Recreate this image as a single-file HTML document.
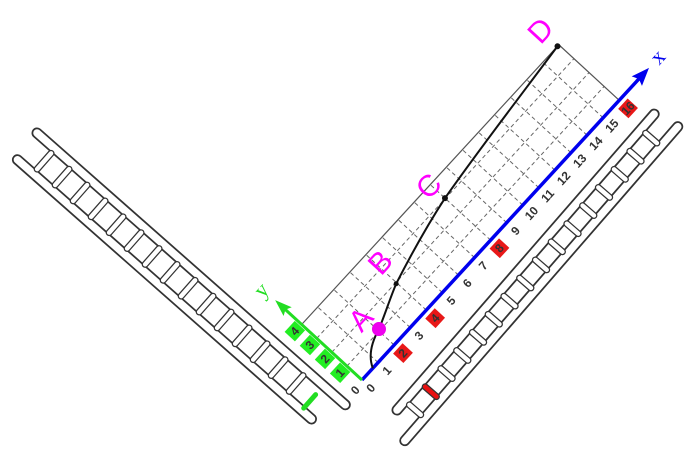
<!DOCTYPE html>
<html><head><meta charset="utf-8"><style>
html,body{margin:0;padding:0;background:#fff;}
svg{display:block;}
.n{font-family:"Liberation Sans",sans-serif;font-weight:bold;font-size:12px;fill:#333;text-anchor:middle;}
.m{font-family:"Liberation Sans",sans-serif;font-size:30px;fill:#ff00ff;text-anchor:middle;}
</style></head><body>
<svg width="693" height="451" viewBox="0 0 693 451" xmlns="http://www.w3.org/2000/svg">
<!-- Left ladder -->
<g transform="translate(37,133) rotate(41.4)">
 <g stroke-linecap="round">
  <line x1="0" y1="0" x2="411" y2="0" stroke="#333" stroke-width="11"/>
  <line x1="0" y1="0" x2="411" y2="0" stroke="#fff" stroke-width="7.5"/>
  <line x1="3" y1="33" x2="395" y2="33" stroke="#333" stroke-width="11"/>
  <line x1="3" y1="33" x2="395" y2="33" stroke="#fff" stroke-width="7.5"/>
 </g>
 <g stroke="#333" stroke-width="7" stroke-linecap="round">
  <path d="M24 6V27M48 6V27M72 6V27M96 6V27M120 6V27M144 6V27M168 6V27M192 6V27M216 6V27M240 6V27M264 6V27M288 6V27M312 6V27M336 6V27M360 6V27"/>
 </g>
 <g stroke="#fff" stroke-width="4.5" stroke-linecap="round">
  <path d="M24 6V27M48 6V27M72 6V27M96 6V27M120 6V27M144 6V27M168 6V27M192 6V27M216 6V27M240 6V27M264 6V27M288 6V27M312 6V27M336 6V27M360 6V27"/>
 </g>
 <line x1="382" y1="12" x2="382" y2="30" stroke="#22dd22" stroke-width="5" stroke-linecap="round"/>
</g>
<!-- Right ladder -->
<g transform="translate(397,410) rotate(-49)">
 <g stroke-linecap="round">
  <line x1="0" y1="0" x2="392" y2="0" stroke="#333" stroke-width="11"/>
  <line x1="0" y1="0" x2="392" y2="0" stroke="#fff" stroke-width="7.5"/>
  <line x1="-18" y1="26" x2="398" y2="26" stroke="#333" stroke-width="11"/>
  <line x1="-18" y1="26" x2="398" y2="26" stroke="#fff" stroke-width="7.5"/>
 </g>
 <g stroke="#333" stroke-width="7" stroke-linecap="round">
  <path d="M12 6V21M60 6V21M84 6V21M108 6V21M132 6V21M156 6V21M180 6V21M204 6V21M228 6V21M252 6V21M276 6V21M300 6V21M324 6V21M348 6V21M372 6V21"/>
 </g>
 <g stroke="#fff" stroke-width="4.5" stroke-linecap="round">
  <path d="M12 6V21M60 6V21M84 6V21M108 6V21M132 6V21M156 6V21M180 6V21M204 6V21M228 6V21M252 6V21M276 6V21M300 6V21M324 6V21M348 6V21M372 6V21"/>
 </g>
 <line x1="36" y1="6" x2="36" y2="21" stroke="#333" stroke-width="7" stroke-linecap="round"/>
 <line x1="36" y1="6" x2="36" y2="21" stroke="#e81010" stroke-width="4.5" stroke-linecap="round"/>
</g>
<!-- Main rotated frame -->
<g transform="translate(362,380) rotate(-47.4)">
 <g stroke="#666" stroke-width="1" stroke-dasharray="4,3" fill="none">
  <path d="M23.75 0V-82M47.5 0V-82M71.25 0V-82M95 0V-82M118.75 0V-82M142.5 0V-82M166.25 0V-82M190 0V-82M213.75 0V-82M237.5 0V-82M261.25 0V-82M285 0V-82M308.75 0V-82M332.5 0V-82M356.25 0V-82"/>
  <path d="M0 -20.5H380M0 -41H380M0 -61.5H380"/>
 </g>
 <path d="M0 -82H380V0" stroke="#555" stroke-width="1.2" fill="none"/>
 <line x1="0" y1="0" x2="412" y2="0" stroke="#0000ee" stroke-width="3.5"/>
 <polygon points="424,0 406,-7 409,0 406,7" fill="#0000ee"/>
 <line x1="0" y1="0" x2="0" y2="-106" stroke="#22dd22" stroke-width="3"/>
 <polygon points="0,-118 -6,-101 0,-104 6,-101" fill="#22dd22"/>
 <text x="438" y="6" font-family="Liberation Serif,serif" font-size="22" fill="#0000ee" text-anchor="middle">x</text>
 <text x="-2" y="-128" font-family="Liberation Serif,serif" font-size="22" fill="#22dd22" text-anchor="middle">y</text>
 <path d="M16 0 C20 -8 28 -17 49 -22 C65 -28 80 -35 94 -40 C130 -50 160 -57 190 -62 C250 -70 320 -76 378 -82" stroke="#111" stroke-width="2" fill="none"/>
 <circle cx="94" cy="-40" r="2.5" fill="#111"/>
 <circle cx="190" cy="-62" r="3" fill="#111"/>
 <circle cx="378" cy="-82" r="3" fill="#111"/>
 <circle cx="49" cy="-22" r="7" fill="#ee00ee"/>
 <text class="m" x="44" y="-32">A</text>
 <text class="m" x="99" y="-56">B</text>
 <text class="m" x="188" y="-72">C</text>
 <text class="m" x="378" y="-95">D</text>
 <g fill="#e81818">
  <rect x="40.5" y="5" width="14" height="14"/>
  <rect x="88" y="5" width="14" height="14"/>
  <rect x="183" y="5" width="14" height="14"/>
  <rect x="373" y="5" width="14" height="14"/>
 </g>
 <text class="n" x="0" y="16">0</text>
 <text class="n" x="23.75" y="16">1</text>
 <text class="n" x="47.5" y="16">2</text>
 <text class="n" x="71.25" y="16">3</text>
 <text class="n" x="95" y="16">4</text>
 <text class="n" x="118.75" y="16">5</text>
 <text class="n" x="142.5" y="16">6</text>
 <text class="n" x="166.25" y="16">7</text>
 <text class="n" x="190" y="16">8</text>
 <text class="n" x="213.75" y="16">9</text>
 <text class="n" x="237.5" y="16">10</text>
 <text class="n" x="261.25" y="16">11</text>
 <text class="n" x="285" y="16">12</text>
 <text class="n" x="308.75" y="16">13</text>
 <text class="n" x="332.5" y="16">14</text>
 <text class="n" x="356.25" y="16">15</text>
 <text class="n" x="380" y="16">16</text>
 <g fill="#22ee22">
  <rect x="-17" y="-28" width="15" height="14"/>
  <rect x="-17" y="-48.5" width="15" height="14"/>
  <rect x="-17" y="-69" width="15" height="14"/>
  <rect x="-17" y="-89.5" width="15" height="14"/>
 </g>
 <text class="n" x="-9.5" y="-17">1</text>
 <text class="n" x="-9.5" y="-37.5">2</text>
 <text class="n" x="-9.5" y="-58">3</text>
 <text class="n" x="-9.5" y="-78.5">4</text>
 <text class="n" x="-12" y="6">0</text>
</g>
</svg>
</body></html>
